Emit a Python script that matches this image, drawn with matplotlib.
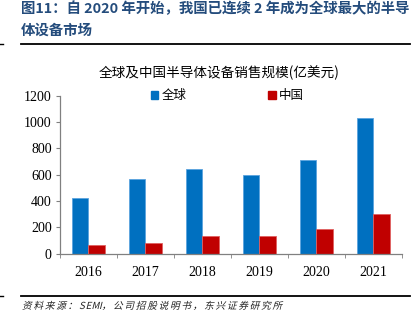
import numpy as np
import matplotlib.pyplot as plt
from matplotlib.patches import Patch, PathPatch
from matplotlib.textpath import TextPath
from matplotlib.font_manager import FontProperties
from matplotlib.transforms import Affine2D

years = ['2016', '2017', '2018', '2019', '2020', '2021']
global_sales = [421, 567, 645, 596, 711, 1027]   # 全球, 亿美元
china_sales = [66, 81, 133, 137, 187, 298]       # 中国, 亿美元

cjk = ['Noto Sans CJK SC', 'DejaVu Sans']
serif = ['Liberation Serif', 'DejaVu Serif']

fig = plt.figure(figsize=(4.17, 3.24), dpi=100)
ax = fig.add_axes([0.1439, 0.2170, 0.8194, 0.4876])

x = np.arange(len(years))
w = 0.29
ax.bar(x - w / 2, global_sales, w, color='#0070C0', edgecolor='#5BA3DE', linewidth=0.6)
ax.bar(x + w / 2, china_sales, w, color='#C00000', edgecolor='#E06060', linewidth=0.6)

ax.set_xlim(-0.5, len(years) - 0.5)
ax.set_ylim(0, 1200)
ax.set_yticks(range(0, 1201, 200))
ax.set_yticklabels([str(v) for v in range(0, 1201, 200)], fontfamily=serif, fontsize=10)
ax.set_xticks(x)
ax.set_xticklabels(years, fontfamily=serif, fontsize=10)
ax.set_xticks(np.arange(-0.5, len(years)), minor=True)
ax.tick_params(axis='x', which='major', length=0, pad=9)
ax.tick_params(axis='x', which='minor', length=3, direction='out', color='#808080')
ax.tick_params(axis='y', length=3, direction='out', color='#808080', pad=3)
for s in ['top', 'right']:
    ax.spines[s].set_visible(False)
for s in ['left', 'bottom']:
    ax.spines[s].set_color('#808080')
    ax.spines[s].set_linewidth(0.9)

handles = [Patch(color='#0070C0', label='全球'), Patch(color='#C00000', label='中国')]
ax.legend(handles=handles, loc='center', bbox_to_anchor=(0.49, 1.0), ncol=2,
          frameon=False, prop={'family': cjk, 'size': 9},
          handlelength=0.6, handleheight=0.6, handletextpad=0.3, columnspacing=6.5)

fig.text(0.525, 1 - 73 / 324, '全球及中国半导体设备销售规模(亿美元)', family=cjk,
         fontsize=9.8, ha='center', va='center')

# 标题与分隔线
title_color = '#244C7C'
fig.text(21 / 417, 1 - 9 / 324, '图11：自 2020 年开始，我国已连续 2 年成为全球最大的半导',
         family=cjk, fontsize=10.4, fontweight='bold', color=title_color, va='center')
fig.text(21 / 417, 1 - 31 / 324, '体设备市场',
         family=cjk, fontsize=10.4, fontweight='bold', color=title_color, va='center')
for yy in [43.5, 296]:
    fig.add_artist(plt.Line2D([21 / 417, 410 / 417], [1 - yy / 324] * 2, color='black', lw=1.3))
    fig.add_artist(plt.Line2D([0, 3 / 417], [1 - yy / 324] * 2, color='black', lw=1.0))

# 资料来源（斜体，逐字加间距）
src = '资料来源：SEMI，公司招股说明书，东兴证券研究所'
fp = FontProperties(family='Noto Sans CJK SC', size=7)
x0, y0 = 22 / 100, (324 - 309) / 100   # inches
for ch in src:
    tp = TextPath((0, 0), ch, prop=fp)
    tr = Affine2D().skew_deg(14, 0).scale(1 / 72).translate(x0, y0) + fig.dpi_scale_trans
    fig.add_artist(PathPatch(tp, transform=tr, color='#222222', lw=0))
    if ch.isascii():
        x0 += (tp.get_extents().width + 1.2) / 72
    else:
        x0 += (7 + 1.2) / 72

fig.savefig('out.png', dpi=100)
